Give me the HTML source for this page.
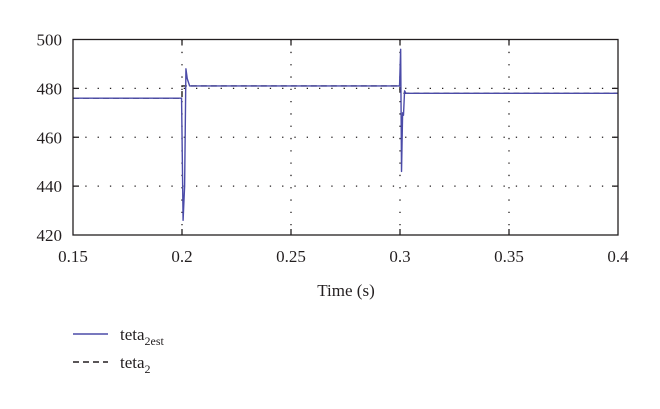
<!DOCTYPE html>
<html><head><meta charset="utf-8">
<style>
html,body{margin:0;padding:0;background:#fff;}
svg text{font-family:"Liberation Serif",serif;fill:#231f20;}
</style></head>
<body>
<svg id="chart" width="660" height="404" xmlns="http://www.w3.org/2000/svg">
<g id="grid"></g>
<g id="series"></g>
<rect x="73" y="39.5" width="545" height="195.5" fill="none" stroke="#231f20" stroke-width="1.3"/>
<g id="ticks"></g>
<text x="346" y="296" font-size="17" text-anchor="middle">Time (s)</text>
<g>
<line x1="73" y1="334" x2="108" y2="334" stroke="#4b4ba8" stroke-width="1.4"/>
<text x="120" y="340" font-size="17">teta<tspan font-size="12" dy="5">2est</tspan></text>
<line x1="73" y1="362" x2="108" y2="362" stroke="#231f20" stroke-width="1.4" stroke-dasharray="6,4"/>
<text x="120" y="368" font-size="17">teta<tspan font-size="12" dy="5">2</tspan></text>
</g>
</svg>
<script>
const xTicks=[0.15,0.2,0.25,0.3,0.35,0.4];
const xTickLabels=["0.15","0.2","0.25","0.3","0.35","0.4"];
const yTicks=[420,440,460,480,500];
const yTickLabels=["420","440","460","480","500"];
const estTime=[0.15,0.1998,0.2005,0.2012,0.2018,0.2024,0.2035,0.25,0.2998,0.3003,0.3007,0.3012,0.3016,0.3021,0.3027,0.4];
const estValue=[476,476,426,440,488,484,481,481,481,496,446,470,469,479,478,478];
const refTime=[0.15,0.2,0.2,0.3,0.3,0.4];
const refValue=[476,476,481,481,478,478];

const X0=73,X1=618,Y0=235,Y1=39.5;
const xs=t=>X0+(t-0.15)/(0.4-0.15)*(X1-X0);
const ys=v=>Y0-(v-420)/(500-420)*(Y0-Y1);
const NS="http://www.w3.org/2000/svg";
const grid=document.getElementById('grid'),ticks=document.getElementById('ticks'),series=document.getElementById('series');
function mk(tag,attrs,parent){const e=document.createElementNS(NS,tag);for(const k in attrs)e.setAttribute(k,attrs[k]);parent.appendChild(e);return e;}
xTicks.forEach((t,i)=>{
  const x=xs(t);
  if(i>0&&i<xTicks.length-1){
    const g=mk('line',{x1:x,y1:Y1,x2:x,y2:Y0,stroke:'#231f20','stroke-width':1.3,'stroke-dasharray':'1.3,11'},grid);
    
    
    const a=mk('line',{x1:x,y1:Y0,x2:x,y2:Y0-6,stroke:'#231f20','stroke-width':1.3},ticks);
    
    
    const b=mk('line',{x1:x,y1:Y1,x2:x,y2:Y1+6,stroke:'#231f20','stroke-width':1.3},ticks);
    
    
  }
  const tx=mk('text',{x:x,y:262,'font-size':17,'text-anchor':'middle'},ticks);
  tx.textContent=xTickLabels[i];
  
  
});
yTicks.forEach((v,i)=>{
  const y=ys(v);
  if(i>0&&i<yTicks.length-1){
    const g=mk('line',{x1:X0,y1:y,x2:X1,y2:y,stroke:'#231f20','stroke-width':1.3,'stroke-dasharray':'1.3,11'},grid);
    
    
    const a=mk('line',{x1:X0,y1:y,x2:X0+6,y2:y,stroke:'#231f20','stroke-width':1.3},ticks);
    
    
    const b=mk('line',{x1:X1,y1:y,x2:X1-6,y2:y,stroke:'#231f20','stroke-width':1.3},ticks);
    
    
  }
  const tx=mk('text',{x:62,y:y+6,'font-size':17,'text-anchor':'end'},ticks);
  tx.textContent=yTickLabels[i];
  
  
});
const refPts=refTime.map((t,i)=>xs(t)+','+ys(refValue[i])).join(' ');
const ref=mk('polyline',{points:refPts,fill:'none',stroke:'#231f20','stroke-width':1.4,'stroke-dasharray':'6,4'},series);


const estPts=estTime.map((t,i)=>xs(t)+','+ys(estValue[i])).join(' ');
const est=mk('polyline',{points:estPts,fill:'none',stroke:'#4b4ba8','stroke-width':1.4,'stroke-linejoin':'round'},series);


</script>
</body></html>
